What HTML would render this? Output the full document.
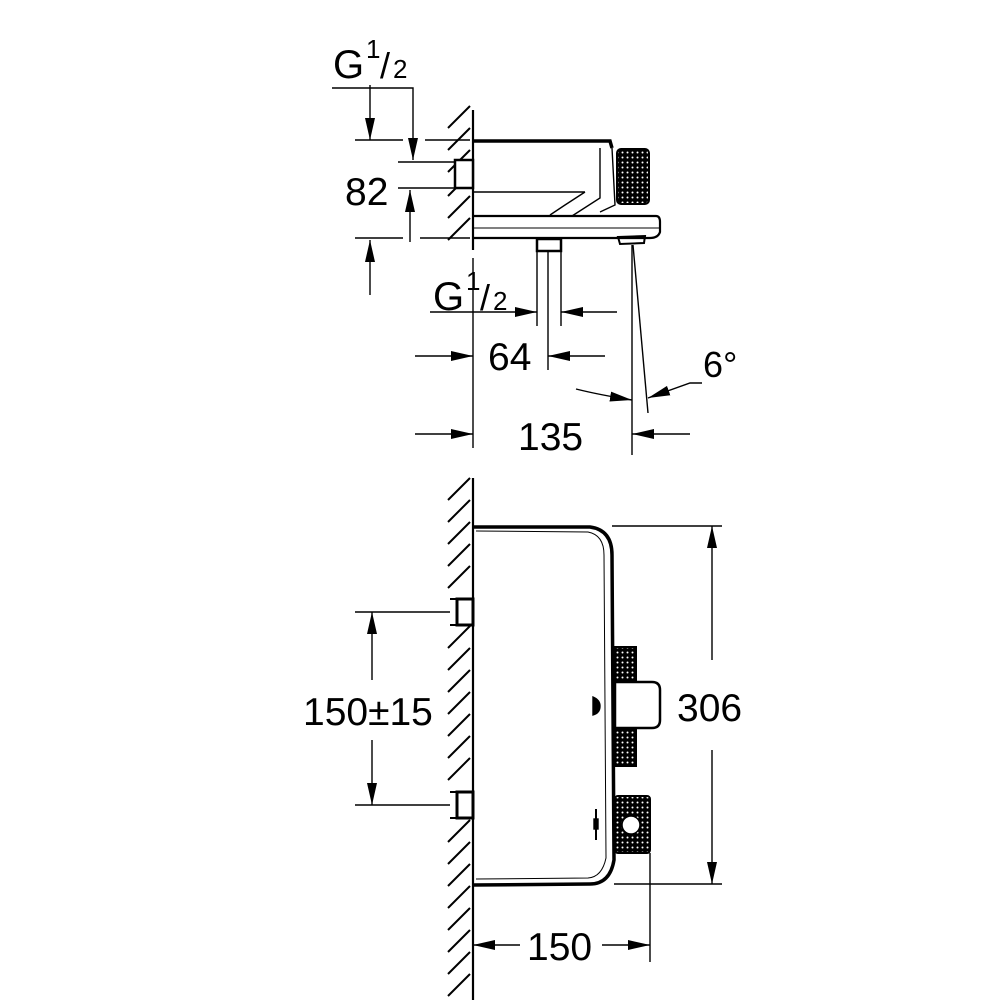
<!DOCTYPE html>
<html><head><meta charset="utf-8"><style>
html,body{margin:0;padding:0;background:#fff;}
svg{display:block;}
text{font-family:"Liberation Sans",sans-serif;fill:#000;}
</style></head><body>
<svg width="1000" height="1000" viewBox="0 0 1000 1000" xmlns="http://www.w3.org/2000/svg">
<defs>
<pattern id="knurl" width="5" height="5" patternUnits="userSpaceOnUse">
<rect width="5" height="5" fill="#000"/><circle cx="2.5" cy="2.5" r="1" fill="#fff"/>
</pattern>
<marker id="ar" viewBox="0 0 22 10" refX="22" refY="5" markerWidth="22" markerHeight="10" markerUnits="userSpaceOnUse" orient="auto">
<path d="M0,0 L22,5 L0,10 z" fill="#000"/></marker>
</defs>
<g stroke="#000" fill="none" stroke-width="1.4">
<!-- TOP VIEW -->
<g stroke-width="2">
<path d="M448,128 L470,106 M448,150 L470,128 M448,172 L470,150 M448,196 L470,174 M448,218 L470,196 M448,240 L470,218"/>
</g>
<line x1="473" y1="110" x2="473" y2="250" stroke-width="2.2"/>
<rect x="455" y="160" width="18" height="28" stroke-width="2.5" fill="#fff"/>
<path d="M473,141 L610,141 L612,148" stroke-width="3.5"/>
<path d="M473,142 L473,216 M473,192 L585,192 M600,148 L600,198 L572,216 M585,192 L565,205 L550,215 M612,148 L615,205 L600,212"/>
<rect x="617" y="149" width="32" height="55" rx="4" fill="url(#knurl)" stroke-width="2"/>
<path d="M473,216 L656,216 Q660,216 660,222 L660,232 Q658,238 650,238 L473,238" stroke-width="2.2"/>
<path d="M473,228 L660,228" stroke-width="1"/>
<rect x="537" y="239" width="24" height="12" stroke-width="2.5"/>
<path d="M618,237 L645,236 L644,243 L620,244 z" stroke-width="2"/>
<line x1="537" y1="251" x2="537" y2="326"/>
<line x1="561" y1="251" x2="561" y2="326"/>
<line x1="548" y1="251" x2="548" y2="370"/>
<polyline points="332,88 413,88 413,160" marker-end="url(#ar)"/>
<line x1="370" y1="85" x2="370" y2="140" marker-end="url(#ar)"/>
<line x1="355" y1="140" x2="403" y2="140"/><line x1="425" y1="140" x2="470" y2="140"/>
<line x1="398" y1="162" x2="455" y2="162"/>
<line x1="398" y1="188" x2="455" y2="188"/>
<line x1="410" y1="242" x2="410" y2="190" marker-end="url(#ar)"/>
<line x1="355" y1="238" x2="403" y2="238"/><line x1="420" y1="238" x2="470" y2="238"/>
<line x1="370" y1="295" x2="370" y2="240" marker-end="url(#ar)"/>
<line x1="430" y1="312" x2="537" y2="312" marker-end="url(#ar)"/>
<line x1="617" y1="312" x2="561" y2="312" marker-end="url(#ar)"/>
<line x1="473" y1="258" x2="473" y2="448"/>
<line x1="415" y1="356" x2="473" y2="356" marker-end="url(#ar)"/>
<line x1="605" y1="356" x2="548" y2="356" marker-end="url(#ar)"/>
<line x1="632" y1="245" x2="632" y2="455"/>
<line x1="415" y1="434" x2="473" y2="434" marker-end="url(#ar)"/>
<line x1="690" y1="434" x2="632" y2="434" marker-end="url(#ar)"/>
<line x1="633" y1="245" x2="648" y2="413"/>
<path d="M576,389 Q600,395 632,400" marker-end="url(#ar)"/>
<polyline points="702,383 690,383 648,398" marker-end="url(#ar)"/>

<!-- BOTTOM VIEW -->
<g stroke-width="2">
<path d="M448,500 L470,478 M448,522 L470,500 M448,544 L470,522 M448,566 L470,544 M448,588 L470,566 M448,648 L470,626 M448,670 L470,648 M448,692 L470,670 M448,714 L470,692 M448,736 L470,714 M448,758 L470,736 M448,780 L470,758 M448,842 L470,820 M448,864 L470,842 M448,886 L470,864 M448,908 L470,886 M448,930 L470,908 M448,952 L470,930 M448,974 L470,952 M448,996 L470,974"/>
</g>
<line x1="473" y1="478" x2="473" y2="1000" stroke-width="2.2"/>
<rect x="457" y="599" width="16" height="26" stroke-width="3" fill="#fff"/>
<rect x="457" y="792" width="16" height="26" stroke-width="3" fill="#fff"/>
<line x1="450" y1="599" x2="473" y2="599" stroke-width="2"/><line x1="450" y1="625" x2="473" y2="625" stroke-width="2"/>
<line x1="450" y1="792" x2="473" y2="792" stroke-width="2"/><line x1="450" y1="818" x2="473" y2="818" stroke-width="2"/>
<path d="M473,527 L590,527 Q612,530 612,555 L614,860 Q610,884 590,884 L473,885" stroke-width="3.5"/>
<path d="M476,531 L588,532 Q604,535 604,555 L606,858 Q602,877 588,878 L476,879" stroke-width="1"/>
<rect x="615" y="647" width="21" height="119" fill="url(#knurl)" stroke-width="2"/>
<path d="M615,682 L652,682 Q660,682 660,690 L660,720 Q660,728 652,728 L615,728 z" fill="#fff" stroke-width="2.5"/>
<rect x="615" y="796" width="35" height="57" rx="3" fill="url(#knurl)" stroke-width="2"/>
<circle cx="631" cy="825" r="9" fill="#fff" stroke-width="1.5"/>
<path d="M593,697 Q600,700 600,706 Q600,713 593,715 z" fill="#000"/>
<line x1="596" y1="809" x2="596" y2="840" stroke-width="2"/>
<rect x="594" y="819" width="4" height="10" fill="#000"/>
<line x1="612" y1="526" x2="722" y2="526"/>
<line x1="614" y1="884" x2="722" y2="884"/>
<line x1="712" y1="660" x2="712" y2="526" marker-end="url(#ar)"/>
<line x1="712" y1="750" x2="712" y2="884" marker-end="url(#ar)"/>
<line x1="355" y1="612" x2="450" y2="612"/>
<line x1="355" y1="805" x2="450" y2="805"/>
<line x1="372" y1="680" x2="372" y2="612" marker-end="url(#ar)"/>
<line x1="372" y1="740" x2="372" y2="805" marker-end="url(#ar)"/>
<line x1="650" y1="853" x2="650" y2="962"/>
<line x1="520" y1="945" x2="473" y2="945" marker-end="url(#ar)"/>
<line x1="602" y1="945" x2="650" y2="945" marker-end="url(#ar)"/>
</g>
<text x="333" y="78" font-size="40">G</text><text x="366" y="58" font-size="26">1</text><text x="380" y="78" font-size="36">/</text><text x="393" y="78" font-size="26">2</text>
<text x="433" y="310" font-size="40">G</text><text x="466" y="290" font-size="26">1</text><text x="480" y="310" font-size="36">/</text><text x="493" y="310" font-size="26">2</text>
<text x="345" y="205" font-size="39">82</text>
<text x="488" y="370" font-size="39">64</text>
<text x="518" y="450" font-size="39">135</text>
<text x="703" y="377" font-size="36">6°</text>
<text x="303" y="725" font-size="39">150±15</text>
<text x="677" y="721" font-size="39">306</text>
<text x="527" y="960" font-size="39">150</text>
</svg>
</body></html>
